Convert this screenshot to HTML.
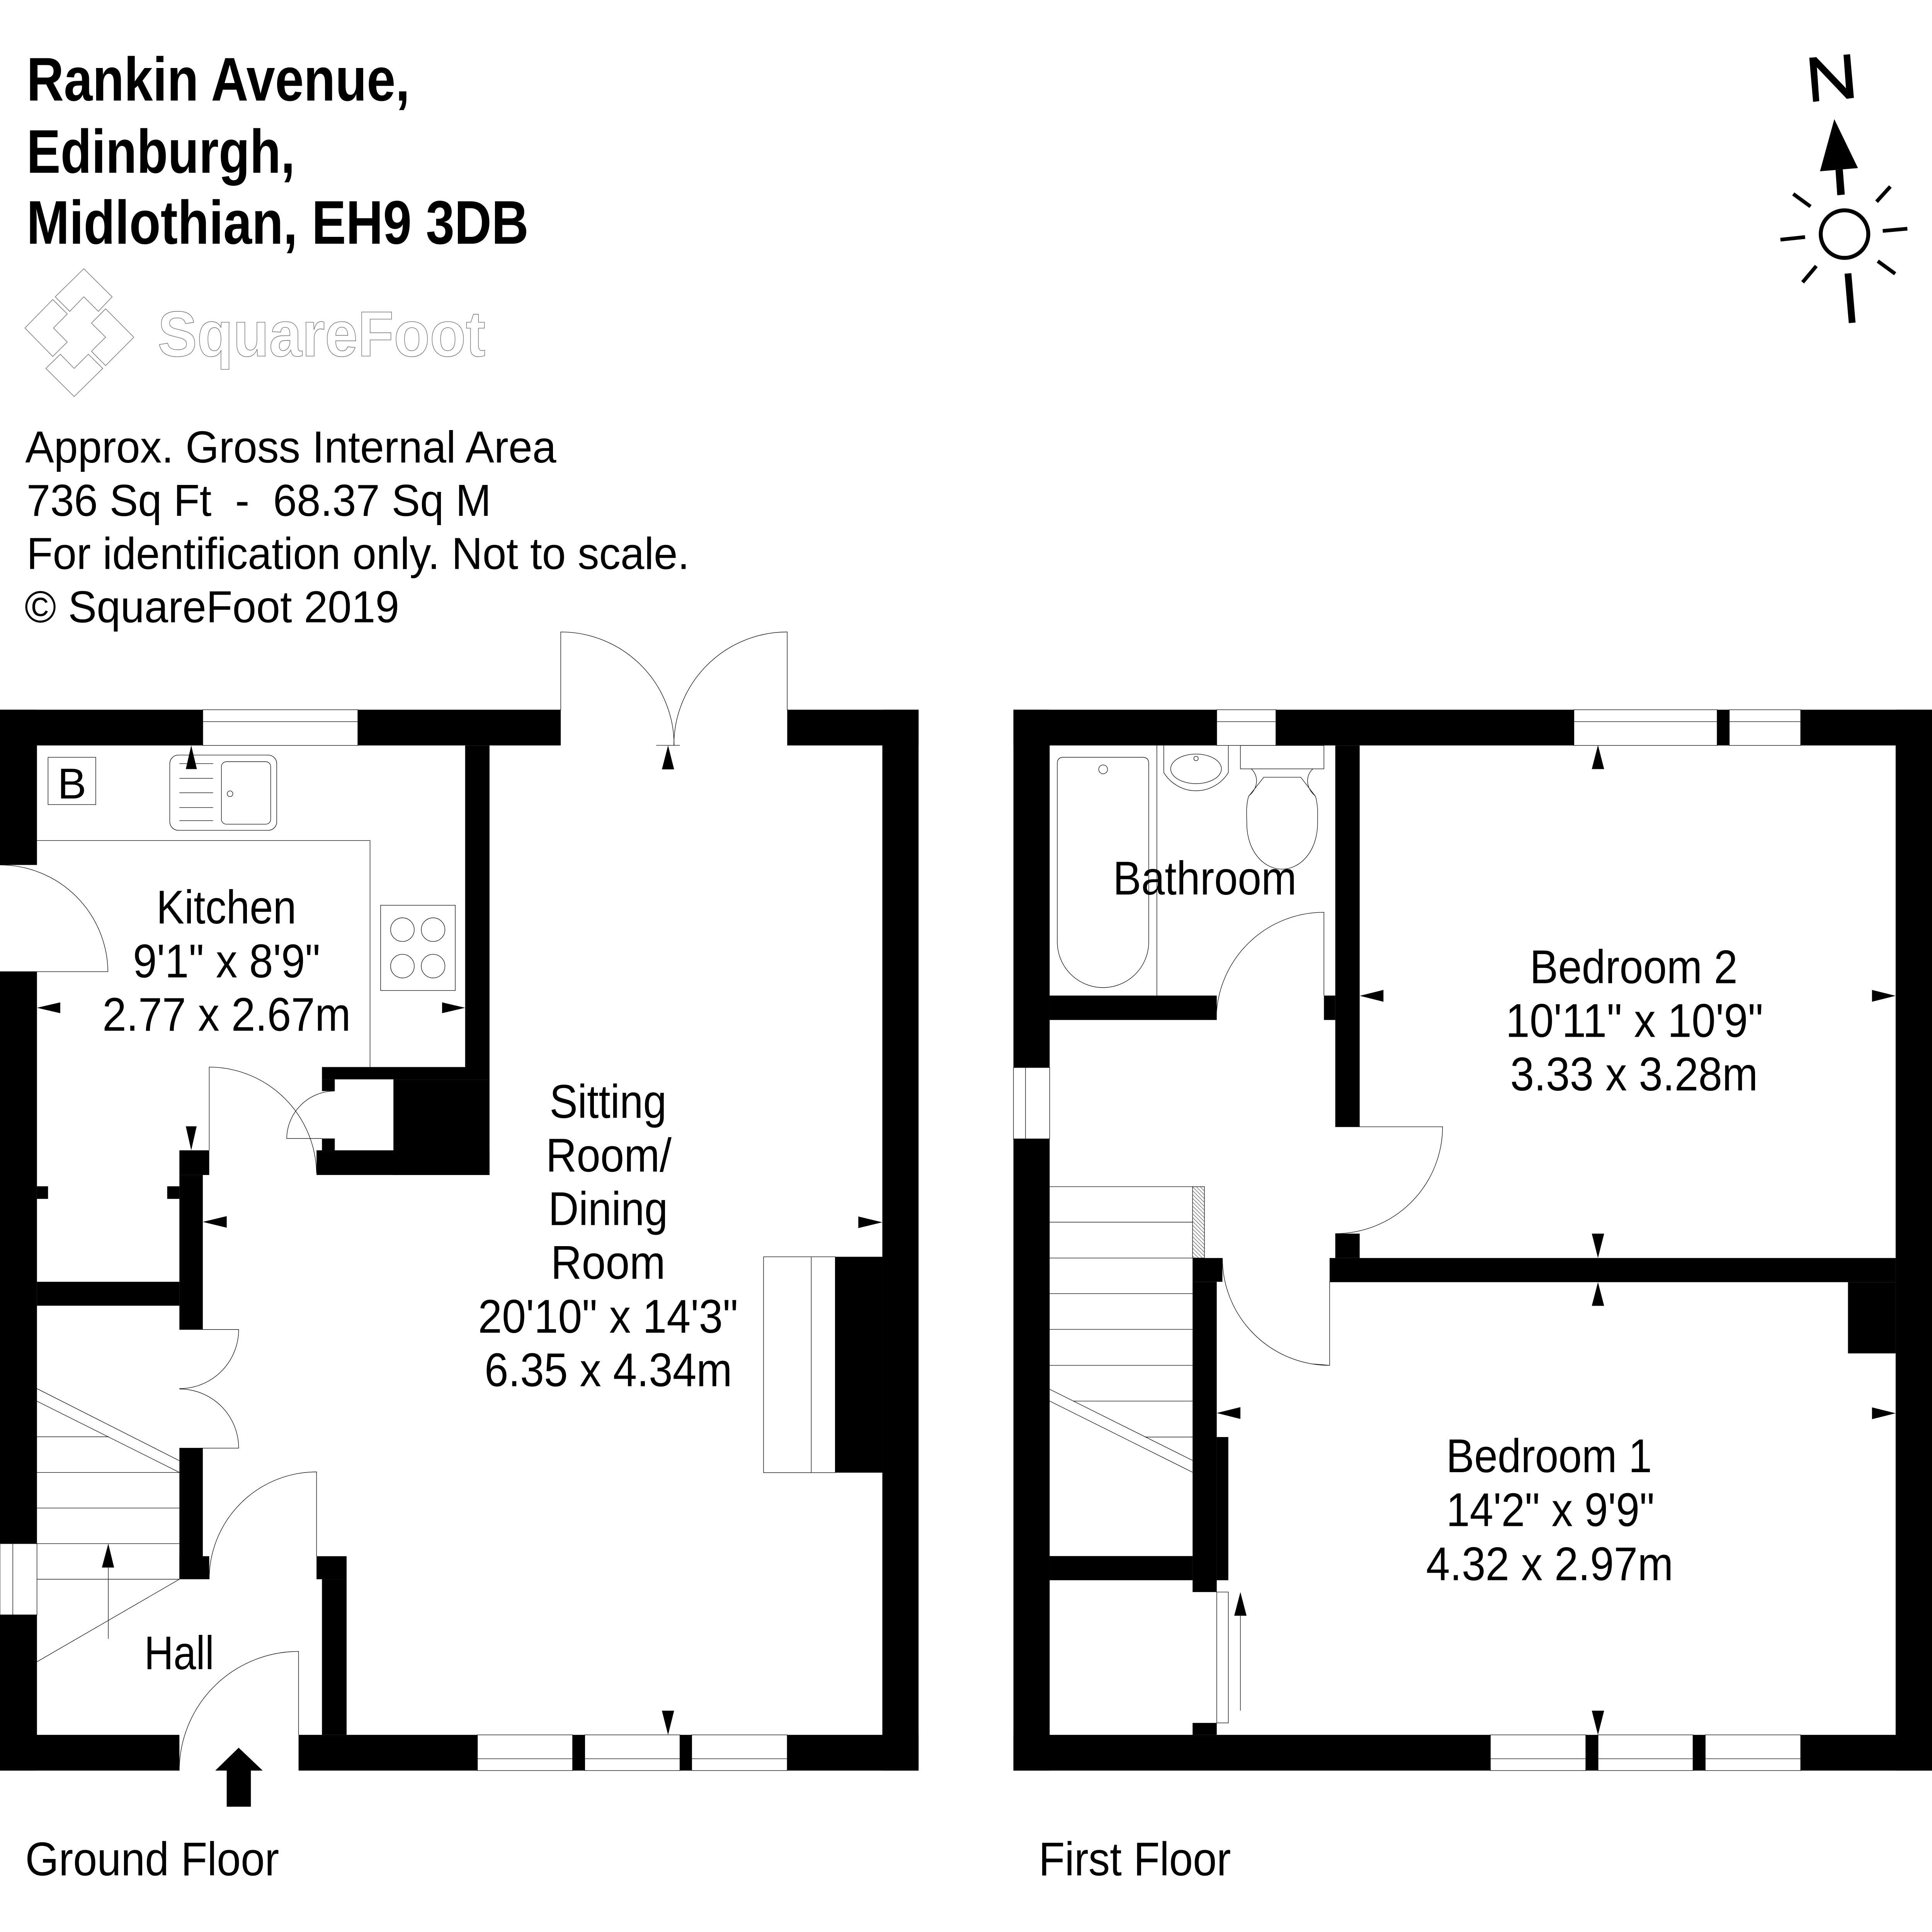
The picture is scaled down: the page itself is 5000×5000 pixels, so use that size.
<!DOCTYPE html>
<html>
<head>
<meta charset="utf-8">
<style>
html,body{margin:0;padding:0;background:#fff;}
svg{display:block;}
text{font-family:"Liberation Sans",Arial,sans-serif;fill:#000;}
.t{font-size:38.5px;}
.i{font-size:36.5px;white-space:pre;}
.b{font-size:50px;font-weight:bold;}
.ln{stroke:#000;stroke-width:0.4;fill:none;}
.fx{stroke:#000;stroke-width:0.4;fill:#fff;}
.lg{stroke:#6a6a6a;stroke-width:0.45;fill:#fff;}
</style>
</head>
<body>
<svg xmlns="http://www.w3.org/2000/svg" width="5000" height="5000" viewBox="0 0 1568 1568">
<defs>
<pattern id="h" width="2.2" height="2.2" patternUnits="userSpaceOnUse" patternTransform="rotate(-45)">
<line x1="1.1" y1="0" x2="1.1" y2="2.2" stroke="#000" stroke-width="0.25"/>
</pattern>
</defs>
<rect x="0" y="0" width="1568" height="1568" fill="#fff"/>

<!-- Title -->
<text class="b" x="21.6" y="81.6" textLength="311" lengthAdjust="spacingAndGlyphs">Rankin Avenue,</text>
<text class="b" x="21.6" y="140.2" textLength="217.8" lengthAdjust="spacingAndGlyphs">Edinburgh,</text>
<text class="b" x="21.6" y="197.8" textLength="407.4" lengthAdjust="spacingAndGlyphs">Midlothian, EH9 3DB</text>

<!-- Logo -->
<g class="lg">
<polygon points="68,218.1 91,240.9 79.8,252.7 68,240.9 56.6,252.7 44.8,240.9"/>
<polygon points="42.8,243.1 54.6,254.8 43.4,266.2 54.6,277.6 42.8,289.3 20.2,266.2"/>
<polygon points="85.7,250.6 108.6,273.7 85.7,296.7 74.2,285.1 85.7,273.7 74.2,262.2"/>
<polygon points="49,287.5 60.2,299 71.7,287.5 83.4,299 60.2,321.8 37.2,299"/>
</g>
<text x="128" y="289" font-size="52" font-weight="bold" textLength="266" lengthAdjust="spacingAndGlyphs" fill="#fff" stroke="#6a6a6a" stroke-width="0.45" style="fill:#fff">SquareFoot</text>

<!-- Info -->
<text class="i" x="20.5" y="375.4" textLength="431" lengthAdjust="spacingAndGlyphs">Approx. Gross Internal Area</text>
<text class="i" x="21.6" y="418.6" textLength="377" lengthAdjust="spacingAndGlyphs">736 Sq Ft  -  68.37 Sq M</text>
<text class="i" x="21.6" y="461.8" textLength="538" lengthAdjust="spacingAndGlyphs">For identification only. Not to scale.</text>
<text class="i" x="20" y="505" textLength="304" lengthAdjust="spacingAndGlyphs">© SquareFoot 2019</text>

<!-- Compass -->
<g fill="#000">
<polygon points="1468.4,46.9 1474.1,46.4 1498.2,71.6 1496.2,44.5 1501.5,44 1504.6,79.4 1498.8,80.2 1474.6,54.7 1476.5,82.1 1471.5,82.7"/>
<polygon points="1488.7,96.7 1507.9,136.4 1477.1,139"/>
<polygon points="1489.7,138 1495.6,137.4 1497.2,157.9 1491.1,158.5"/>
</g>
<circle cx="1497" cy="190" r="19.3" fill="none" stroke="#000" stroke-width="3.2"/>
<g stroke="#000" stroke-width="3" stroke-linecap="butt">
<line x1="1455.4" y1="157.4" x2="1469.4" y2="167.6"/>
<line x1="1534.2" y1="151.4" x2="1523" y2="163.7"/>
<line x1="1445" y1="194.5" x2="1465" y2="192.4"/>
<line x1="1528" y1="187.4" x2="1548" y2="185.6"/>
<line x1="1474.1" y1="215.9" x2="1463" y2="229.1"/>
<line x1="1524" y1="211.9" x2="1538.1" y2="222.2"/>
<line x1="1499.8" y1="221.9" x2="1503.2" y2="262" stroke-width="5.5"/>
</g>

<!-- ================= GROUND FLOOR ================= -->
<g fill="#000">
<rect x="0" y="576" width="164.6" height="29"/>
<rect x="290.4" y="576" width="164.7" height="29"/>
<rect x="638.9" y="576" width="106.6" height="29"/>
<rect x="716.1" y="576" width="29.4" height="861"/>
<rect x="677.9" y="1020" width="38.2" height="175.2"/>
<rect x="0" y="1408" width="145.6" height="29"/>
<rect x="242.3" y="1408" width="145.2" height="29"/>
<rect x="464.7" y="1408" width="9.9" height="29"/>
<rect x="551.8" y="1408" width="9.6" height="29"/>
<rect x="638.9" y="1408" width="106.6" height="29"/>
<rect x="0" y="576" width="30" height="126"/>
<rect x="0" y="788.6" width="30" height="464.2"/>
<rect x="0" y="1310.6" width="30" height="126.4"/>
<rect x="377.5" y="605" width="19.8" height="261"/>
<rect x="261.3" y="866" width="136" height="10"/>
<rect x="261.3" y="876" width="10.4" height="9.5"/>
<rect x="319.3" y="876" width="78" height="77.6"/>
<rect x="261.3" y="924" width="10.4" height="9.6"/>
<rect x="256.9" y="933.6" width="140.4" height="20"/>
<rect x="145.6" y="933.6" width="24.2" height="20"/>
<rect x="145.6" y="953.6" width="19" height="125.4"/>
<rect x="135.7" y="962.8" width="9.9" height="10.2"/>
<rect x="30" y="962.8" width="9" height="10.2"/>
<rect x="30" y="1040.3" width="115.6" height="19.4"/>
<rect x="145.6" y="1175.3" width="19" height="106.4"/>
<rect x="145.6" y="1263" width="24.2" height="18.7"/>
<rect x="256.9" y="1263" width="24.4" height="18.7"/>
<rect x="261.3" y="1281.7" width="20" height="126.3"/>
</g>
<!-- GF windows -->
<g class="fx">
<rect x="164.6" y="576" width="125.8" height="29"/>
<rect x="0" y="1252.8" width="30" height="57.8"/>
<rect x="387.5" y="1408" width="77.2" height="29"/>
<rect x="474.6" y="1408" width="77.2" height="29"/>
<rect x="561.4" y="1408" width="77.5" height="29"/>
</g>
<g class="ln">
<line x1="164.6" y1="585.7" x2="290.4" y2="585.7"/>
<line x1="10.4" y1="1252.8" x2="10.4" y2="1310.6"/>
<line x1="387.5" y1="1427.4" x2="638.9" y2="1427.4"/>
<!-- hearth -->
<rect x="619.7" y="1020" width="58.2" height="175.2"/>
<line x1="658.4" y1="1020" x2="658.4" y2="1195.2"/>
<!-- kitchen counter -->
<polyline points="30,682.2 300.3,682.2 300.3,866"/>
<!-- boiler -->
<rect x="39" y="614.6" width="38.7" height="38.4"/>
<!-- sink -->
<rect x="137.8" y="612.8" width="86.8" height="61.1" rx="7" ry="7"/>
<rect x="179.7" y="618.2" width="40" height="50.7" rx="4" ry="4"/>
<circle cx="186.7" cy="644.2" r="2.3"/>
<line x1="145.6" y1="619.8" x2="173" y2="619.8"/>
<line x1="145.6" y1="631.7" x2="173" y2="631.7"/>
<line x1="145.6" y1="643.4" x2="173" y2="643.4"/>
<line x1="145.6" y1="655.4" x2="173" y2="655.4"/>
<line x1="145.6" y1="666" x2="173" y2="666"/>
<!-- hob -->
<rect x="308.9" y="734.7" width="60.6" height="69.2"/>
<circle cx="326.6" cy="754.5" r="9.6"/>
<circle cx="351.5" cy="754.5" r="9.6"/>
<circle cx="326.6" cy="784.1" r="9.6"/>
<circle cx="351.5" cy="784.1" r="9.6"/>
<!-- doors -->
<path d="M0,702 A87.6,87.6 0 0 1 87.6,788.6 L0,788.6"/>
<path d="M169.8,933.6 L169.8,866 A87.6,87.6 0 0 1 256.9,951.8"/>
<path d="M261.3,924 L232.7,924 A39,39 0 0 1 271.7,885.5"/>
<path d="M145.6,1079 L193.7,1079 A48,48 0 0 1 145.6,1127"/>
<path d="M145.6,1175.3 L193.7,1175.3 A48,48 0 0 0 145.6,1127.3"/>
<path d="M256.9,1263 L256.9,1194.6 A87.1,87.1 0 0 0 169.8,1281.7"/>
<path d="M242.3,1408 L242.3,1340.3 A96.8,96.8 0 0 0 145.5,1437.1"/>
<path d="M455.1,576.3 L455.1,512.9 A92,92 0 0 1 547.1,604.9"/>
<path d="M638.9,576.3 L638.9,512.9 A92,92 0 0 0 546.9,604.9"/>
<line x1="532.6" y1="604.9" x2="551.8" y2="604.9"/>
<!-- GF stairs -->
<line x1="30" y1="1166.1" x2="88.4" y2="1166.1"/>
<line x1="30" y1="1195" x2="145.6" y2="1195"/>
<line x1="30" y1="1223.9" x2="145.6" y2="1223.9"/>
<line x1="30" y1="1252.8" x2="145.6" y2="1252.8"/>
<line x1="30" y1="1281.7" x2="145.6" y2="1281.7"/>
<line x1="30" y1="1127" x2="145.6" y2="1185.5"/>
<line x1="30" y1="1137.2" x2="145.6" y2="1195"/>
<line x1="145.6" y1="1281.7" x2="30" y2="1348.7"/>
<line x1="87.9" y1="1330" x2="87.9" y2="1272"/>
</g>
<g fill="#000">
<polygon points="87.9,1252.8 82.7,1272.2 92.6,1272.2"/>
<!-- entry arrow -->
<polygon points="193.7,1418.4 174.7,1437 184,1437 184,1466.3 203.6,1466.3 203.6,1437 213.2,1437"/>
<!-- dimension arrows GF -->
<polygon points="155.2,605 150.8,624.2 159.8,624.2"/>
<polygon points="155.2,933.6 150.8,914.1 159.6,914.1"/>
<polygon points="30,817.9 48.9,813.5 48.9,822.3"/>
<polygon points="377.5,817.9 358.8,813.5 358.8,822.3"/>
<polygon points="164.6,991.7 184,987 184,996.4"/>
<polygon points="542.2,605 537.2,624.4 547.1,624.4"/>
<polygon points="542.2,1408 537.2,1388.4 547.1,1388.4"/>
<polygon points="716.1,992 696.6,987.3 696.6,996.7"/>
</g>
<!-- GF text -->
<text x="58.4" y="648.1" font-size="35" text-anchor="middle">B</text>
<text class="t" x="183.7" y="749.5" text-anchor="middle" textLength="113.6" lengthAdjust="spacingAndGlyphs">Kitchen</text>
<text class="t" x="183.9" y="793.2" text-anchor="middle" textLength="152" lengthAdjust="spacingAndGlyphs">9'1" x 8'9"</text>
<text class="t" x="183.9" y="836.6" text-anchor="middle" textLength="201.5" lengthAdjust="spacingAndGlyphs">2.77 x 2.67m</text>
<text class="t" x="145.4" y="1354.8" text-anchor="middle" textLength="56.7" lengthAdjust="spacingAndGlyphs">Hall</text>
<text class="t" x="493.5" y="907.3" text-anchor="middle" textLength="95" lengthAdjust="spacingAndGlyphs">Sitting</text>
<text class="t" x="494" y="950.8" text-anchor="middle" textLength="102" lengthAdjust="spacingAndGlyphs">Room/</text>
<text class="t" x="493.5" y="994.3" text-anchor="middle" textLength="97" lengthAdjust="spacingAndGlyphs">Dining</text>
<text class="t" x="493.5" y="1037.8" text-anchor="middle" textLength="93" lengthAdjust="spacingAndGlyphs">Room</text>
<text class="t" x="493.5" y="1081.6" text-anchor="middle" textLength="211" lengthAdjust="spacingAndGlyphs">20'10" x 14'3"</text>
<text class="t" x="493.7" y="1125" text-anchor="middle" textLength="201" lengthAdjust="spacingAndGlyphs">6.35 x 4.34m</text>
<text class="t" x="20.5" y="1522" textLength="206" lengthAdjust="spacingAndGlyphs">Ground Floor</text>

<!-- ================= FIRST FLOOR ================= -->
<g fill="#000">
<rect x="822.5" y="576" width="165" height="29"/>
<rect x="1035.5" y="576" width="241.9" height="29"/>
<rect x="1393.6" y="576" width="9.9" height="29"/>
<rect x="1461.4" y="576" width="106.6" height="29"/>
<rect x="1538.5" y="576" width="29.5" height="861"/>
<rect x="822.5" y="576" width="29.4" height="290.4"/>
<rect x="822.5" y="924.3" width="29.4" height="512.7"/>
<rect x="822.5" y="1408" width="387.1" height="29"/>
<rect x="1287" y="1408" width="10" height="29"/>
<rect x="1374" y="1408" width="10" height="29"/>
<rect x="1461.4" y="1408" width="106.6" height="29"/>
<rect x="1083.7" y="605" width="19.8" height="309.5"/>
<rect x="1074.5" y="808" width="9.2" height="19.8"/>
<rect x="851.9" y="808" width="135.6" height="19.8"/>
<rect x="1083.7" y="1001.2" width="19.8" height="19.8"/>
<rect x="1079.1" y="1021" width="459.4" height="19.6"/>
<rect x="1499.8" y="1040.6" width="38.7" height="57.8"/>
<rect x="967.9" y="1021" width="24.2" height="19.3"/>
<rect x="967.9" y="1040.3" width="19.6" height="251.8"/>
<rect x="987.5" y="1166.3" width="9.4" height="116.2"/>
<rect x="851.9" y="1262.9" width="116" height="19.6"/>
<rect x="967.9" y="1398.3" width="19.6" height="9.7"/>
</g>
<g class="fx">
<rect x="987.5" y="576" width="48" height="29"/>
<rect x="1277.4" y="576" width="116.2" height="29"/>
<rect x="1403.5" y="576" width="57.9" height="29"/>
<rect x="822.5" y="866.4" width="29.4" height="57.9"/>
<rect x="1209.6" y="1408" width="77.4" height="29"/>
<rect x="1297" y="1408" width="77" height="29"/>
<rect x="1384" y="1408" width="77.4" height="29"/>
</g>
<rect x="967.9" y="963.1" width="9.6" height="57.9" fill="url(#h)" stroke="#000" stroke-width="0.4"/>
<g class="ln">
<line x1="987.5" y1="585.7" x2="1035.5" y2="585.7"/>
<line x1="1277.4" y1="585.7" x2="1393.6" y2="585.7"/>
<line x1="1403.5" y1="585.7" x2="1461.4" y2="585.7"/>
<line x1="832.3" y1="866.4" x2="832.3" y2="924.3"/>
<line x1="1209.6" y1="1427.4" x2="1461.4" y2="1427.4"/>
<!-- bath -->
<path d="M863.1,614.6 H927.3 Q932.3,614.6 932.3,619.6 V764.4 A37.1,37.1 0 0 1 858.1,764.4 V619.6 Q858.1,614.6 863.1,614.6 Z"/>
<circle cx="895.3" cy="624.4" r="3.6"/>
<line x1="938.9" y1="605" x2="938.9" y2="808"/>
<!-- basin -->
<path d="M944.5,605 V627 C950,636 960,641.8 970.7,641.8 C981.4,641.8 991.4,636 996.9,627 V605"/>
<ellipse cx="970.7" cy="624" rx="20.6" ry="12"/>
<circle cx="970.7" cy="615.6" r="1.8"/>
<!-- toilet -->
<rect x="1006.7" y="605" width="67.8" height="19"/>
<path d="M1013.3,646.4 C1011,655 1011.9,662 1011.9,668.4 C1011.9,690 1025,705.4 1040.5,705.4 C1056,705.4 1069.3,690 1069.3,668.4 C1069.3,662 1070,655 1067.7,646.4 L1055.7,630.8 L1025.7,630.8 Z"/>
<path d="M1015.5,624 C1022,630 1021,640 1013.5,646"/>
<path d="M1065.5,624 C1059,630 1060,640 1067.5,646"/>
<!-- doors -->
<path d="M1074.5,808 L1074.5,740.4 A87.4,87.4 0 0 0 987.1,827.8"/>
<path d="M1083.7,914.5 L1170.8,914.5 A87,87 0 0 1 1083.7,1001.2"/>
<path d="M1079.1,1040.3 L1079.1,1108.1 A87,87 0 0 1 992.1,1021"/>
<line x1="1066" y1="1107" x2="1079.1" y2="1108.1"/>
<rect x="987.5" y="1292.1" width="9.4" height="106.2"/>
<line x1="1006.7" y1="1388.3" x2="1006.7" y2="1311"/>
<!-- FF stairs -->
<line x1="851.9" y1="963.1" x2="967.9" y2="963.1"/>
<line x1="851.9" y1="991.9" x2="967.9" y2="991.9"/>
<line x1="851.9" y1="1021" x2="967.9" y2="1021"/>
<line x1="851.9" y1="1049.9" x2="967.9" y2="1049.9"/>
<line x1="851.9" y1="1078.9" x2="967.9" y2="1078.9"/>
<line x1="851.9" y1="1108.1" x2="967.9" y2="1108.1"/>
<line x1="871.3" y1="1137.1" x2="967.9" y2="1137.1"/>
<line x1="929.3" y1="1166.3" x2="967.9" y2="1166.3"/>
<line x1="851.9" y1="1127.5" x2="967.9" y2="1185.3"/>
<line x1="851.9" y1="1137.1" x2="967.9" y2="1194.9"/>
</g>
<g fill="#000">
<polygon points="1006.7,1292.1 1001.7,1311.3 1011.7,1311.3"/>
<polygon points="1296.9,604.7 1291.9,624.2 1301.9,624.2"/>
<polygon points="1296.9,1021 1291.9,1001.2 1301.9,1001.2"/>
<polygon points="1103.6,808.2 1122.8,803.4 1122.8,813"/>
<polygon points="1538.5,808.2 1519.3,803.4 1519.3,813"/>
<polygon points="1296.9,1040.6 1291.9,1059.8 1301.9,1059.8"/>
<polygon points="1296.9,1408 1291.9,1388.4 1301.9,1388.4"/>
<polygon points="1538.5,1147 1519.3,1142.2 1519.3,1151.8"/>
<polygon points="987.5,1146.8 1006.7,1142 1006.7,1151.6"/>
</g>
<!-- FF text -->
<text class="t" x="977.8" y="726" text-anchor="middle" textLength="149" lengthAdjust="spacingAndGlyphs">Bathroom</text>
<text class="t" x="1325.9" y="798" text-anchor="middle" textLength="168.6" lengthAdjust="spacingAndGlyphs">Bedroom 2</text>
<text class="t" x="1326.5" y="841.5" text-anchor="middle" textLength="209" lengthAdjust="spacingAndGlyphs">10'11" x 10'9"</text>
<text class="t" x="1326.2" y="885" text-anchor="middle" textLength="201" lengthAdjust="spacingAndGlyphs">3.33 x 3.28m</text>
<text class="t" x="1257.2" y="1194.8" text-anchor="middle" textLength="167" lengthAdjust="spacingAndGlyphs">Bedroom 1</text>
<text class="t" x="1258.3" y="1238.6" text-anchor="middle" textLength="169" lengthAdjust="spacingAndGlyphs">14'2" x 9'9"</text>
<text class="t" x="1257.7" y="1282.4" text-anchor="middle" textLength="200.6" lengthAdjust="spacingAndGlyphs">4.32 x 2.97m</text>
<text class="t" x="843" y="1522" textLength="156" lengthAdjust="spacingAndGlyphs">First Floor</text>
</svg>
</body>
</html>
